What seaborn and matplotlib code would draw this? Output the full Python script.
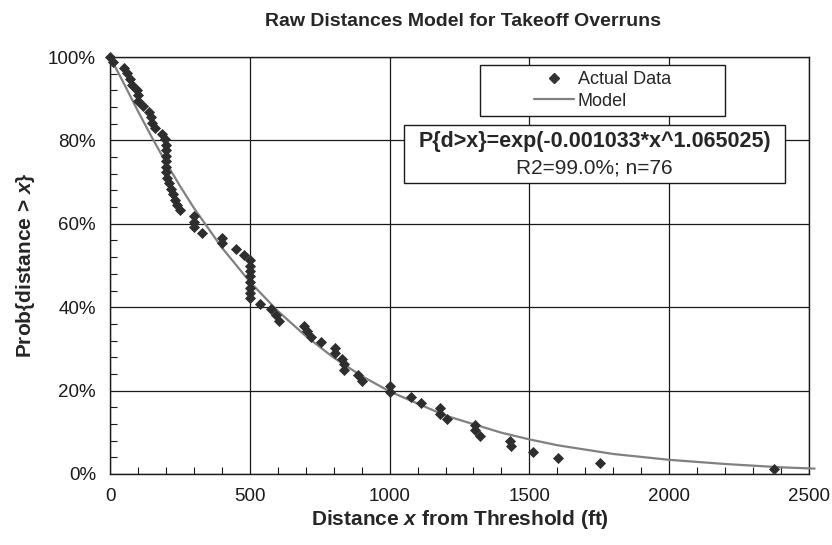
import matplotlib
matplotlib.use("Agg")
import matplotlib.pyplot as plt
import numpy as np
import pandas as pd
import seaborn as sns
from matplotlib.patches import Rectangle
from matplotlib.lines import Line2D
from matplotlib.ticker import MultipleLocator, FuncFormatter

# ---- data ----
distance_ft = [0, 10, 50, 62, 70, 77, 98, 100, 100, 119,
               140, 145, 150, 161, 185, 196, 200, 200, 200, 200,
               200, 200, 203, 212, 218, 224, 232, 241, 251, 300,
               300, 300, 330, 400, 400, 450, 478, 500, 500, 500,
               500, 500, 500, 500, 500, 537, 577, 593, 605, 694,
               704, 718, 754, 804, 804, 831, 837, 837, 887, 902,
               1001, 1001, 1075, 1113, 1180, 1180, 1204, 1304, 1304, 1322,
               1430, 1435, 1512, 1601, 1751, 2376]
prob_pct = [100.0, 98.7, 97.4, 96.1, 94.7, 93.4, 92.1, 90.8, 89.5, 88.2,
            86.8, 85.5, 84.2, 82.9, 81.6, 80.3, 78.9, 77.6, 76.3, 75.0,
            73.7, 72.4, 71.1, 69.7, 68.4, 67.1, 65.8, 64.5, 63.2, 61.8,
            60.5, 59.2, 57.9, 56.6, 55.3, 53.9, 52.6, 51.3, 50.0, 48.7,
            47.4, 46.1, 44.7, 43.4, 42.1, 40.8, 39.5, 38.2, 36.8, 35.5,
            34.2, 32.9, 31.6, 30.3, 28.9, 27.6, 26.3, 25.0, 23.7, 22.4,
            21.1, 19.7, 18.4, 17.1, 15.8, 14.5, 13.2, 11.8, 10.5, 9.2,
            7.9, 6.6, 5.3, 3.9, 2.6, 1.3]

model_x = [0, 50, 100, 150, 200, 250, 300, 400, 500, 600, 700, 800, 900,
           1000, 1200, 1400, 1500, 1600, 1800, 2000, 2200, 2400, 2520]
model_pct = [100.0, 93.6, 87.0, 80.7, 74.7, 69.1, 63.8, 54.3, 46.1, 39.1,
             33.1, 27.9, 23.5, 19.8, 14.0, 9.9, 8.3, 6.9, 4.8, 3.4, 2.4,
             1.6, 1.3]

x_ticks = [0, 500, 1000, 1500, 2000, 2500]
y_ticks = [0, 20, 40, 60, 80, 100]

title = "Raw Distances Model for Takeoff Overruns"
equation = "P{d>x}=exp(-0.001033*x^1.065025)"
fit_note = "R2=99.0%; n=76"

df_pts = pd.DataFrame({"distance": distance_ft, "prob": prob_pct})
df_mod = pd.DataFrame({"distance": model_x, "prob": model_pct})

# ---- style ----
sns.set_theme(style="white")
plt.rcParams["font.family"] = ["Liberation Sans", "DejaVu Sans"]
plt.rcParams["mathtext.fontset"] = "custom"
plt.rcParams["mathtext.it"] = "Liberation Sans:italic:bold"
plt.rcParams["mathtext.rm"] = "Liberation Sans:bold"
plt.rcParams["mathtext.bf"] = "Liberation Sans:bold"

W, H = 832, 545
fig = plt.figure(figsize=(W / 100, H / 100), dpi=100)
L, R, T, B = 110, 809, 57, 474
ax = fig.add_axes([L / W, 1 - B / H, (R - L) / W, (B - T) / H])

sns.lineplot(data=df_mod, x="distance", y="prob", ax=ax, color="#808080",
             linewidth=1.6, estimator=None, zorder=3, clip_on=False)
sns.scatterplot(data=df_pts, x="distance", y="prob", ax=ax, marker="D",
                color="#2e2e2e", s=32, linewidth=0, zorder=4, clip_on=False)

ax.set_xlim(0, 2500)
ax.set_ylim(0, 100)
ax.set_xticks(x_ticks)
ax.set_yticks(y_ticks)
ax.xaxis.set_minor_locator(MultipleLocator(100))
ax.yaxis.set_minor_locator(MultipleLocator(4))
ax.yaxis.set_major_formatter(FuncFormatter(lambda v, p: f"{int(v)}%"))
ax.grid(True, which="major", color="#1a1a1a", linewidth=0.9, zorder=1)
ax.set_axisbelow(True)
for s in ax.spines.values():
    s.set_visible(True)
    s.set_color("#1a1a1a")
    s.set_linewidth(1.0)
ax.tick_params(which="major", direction="inout", length=10, width=1,
               color="#1a1a1a", labelsize=13.5, pad=5, labelcolor="#1a1a1a")
ax.tick_params(which="minor", direction="in", length=5, width=0.8,
               color="#1a1a1a")
ax.tick_params(axis="x", which="minor", bottom=True)
ax.tick_params(axis="y", which="minor", left=True)

ax.set_xlabel(r"Distance $x$ from Threshold (ft)", fontsize=15,
              fontweight="bold", labelpad=2)
ax.set_ylabel(r"Prob{distance > $x$}", fontsize=15, fontweight="bold",
              labelpad=8)

fig.text(463 / W, 1 - 21 / H, title, ha="center", va="center",
         fontsize=14, fontweight="bold")

# ---- legend box ----
def px2ax(x, y):
    return ((x - L) / (R - L), (B - y) / (B - T))

lx0, ly0 = px2ax(480, 116)
lx1, ly1 = px2ax(725, 65)
ax.add_patch(Rectangle((lx0, ly0), lx1 - lx0, ly1 - ly0, transform=ax.transAxes,
                       facecolor="white", edgecolor="#1a1a1a", linewidth=1.0,
                       zorder=5))
handles = [Line2D([], [], marker="D", color="#333333", linestyle="none",
                  markersize=5),
           Line2D([], [], color="#808080", linewidth=1.6)]
leg = ax.legend(handles, ["Actual Data", "Model"], loc="center",
                bbox_to_anchor=((lx0 + lx1) / 2, (ly0 + ly1) / 2),
                frameon=False, fontsize=13, handlelength=2.2,
                handletextpad=0.2, labelspacing=0.25, borderpad=0)
leg.set_zorder(6)

# ---- equation box ----
ex0, ey0 = px2ax(404, 183)
ex1, ey1 = px2ax(785, 125)
ax.add_patch(Rectangle((ex0, ey0), ex1 - ex0, ey1 - ey0, transform=ax.transAxes,
                       facecolor="white", edgecolor="#1a1a1a", linewidth=1.0,
                       zorder=5))
cx = (ex0 + ex1) / 2
ax.text(cx, px2ax(0, 141)[1], equation, transform=ax.transAxes, ha="center",
        va="center", fontsize=15.5, fontweight="bold", zorder=7)
ax.text(cx, px2ax(0, 168)[1], fit_note, transform=ax.transAxes, ha="center",
        va="center", fontsize=15, zorder=7)

fig.savefig("out.png", dpi=100)
